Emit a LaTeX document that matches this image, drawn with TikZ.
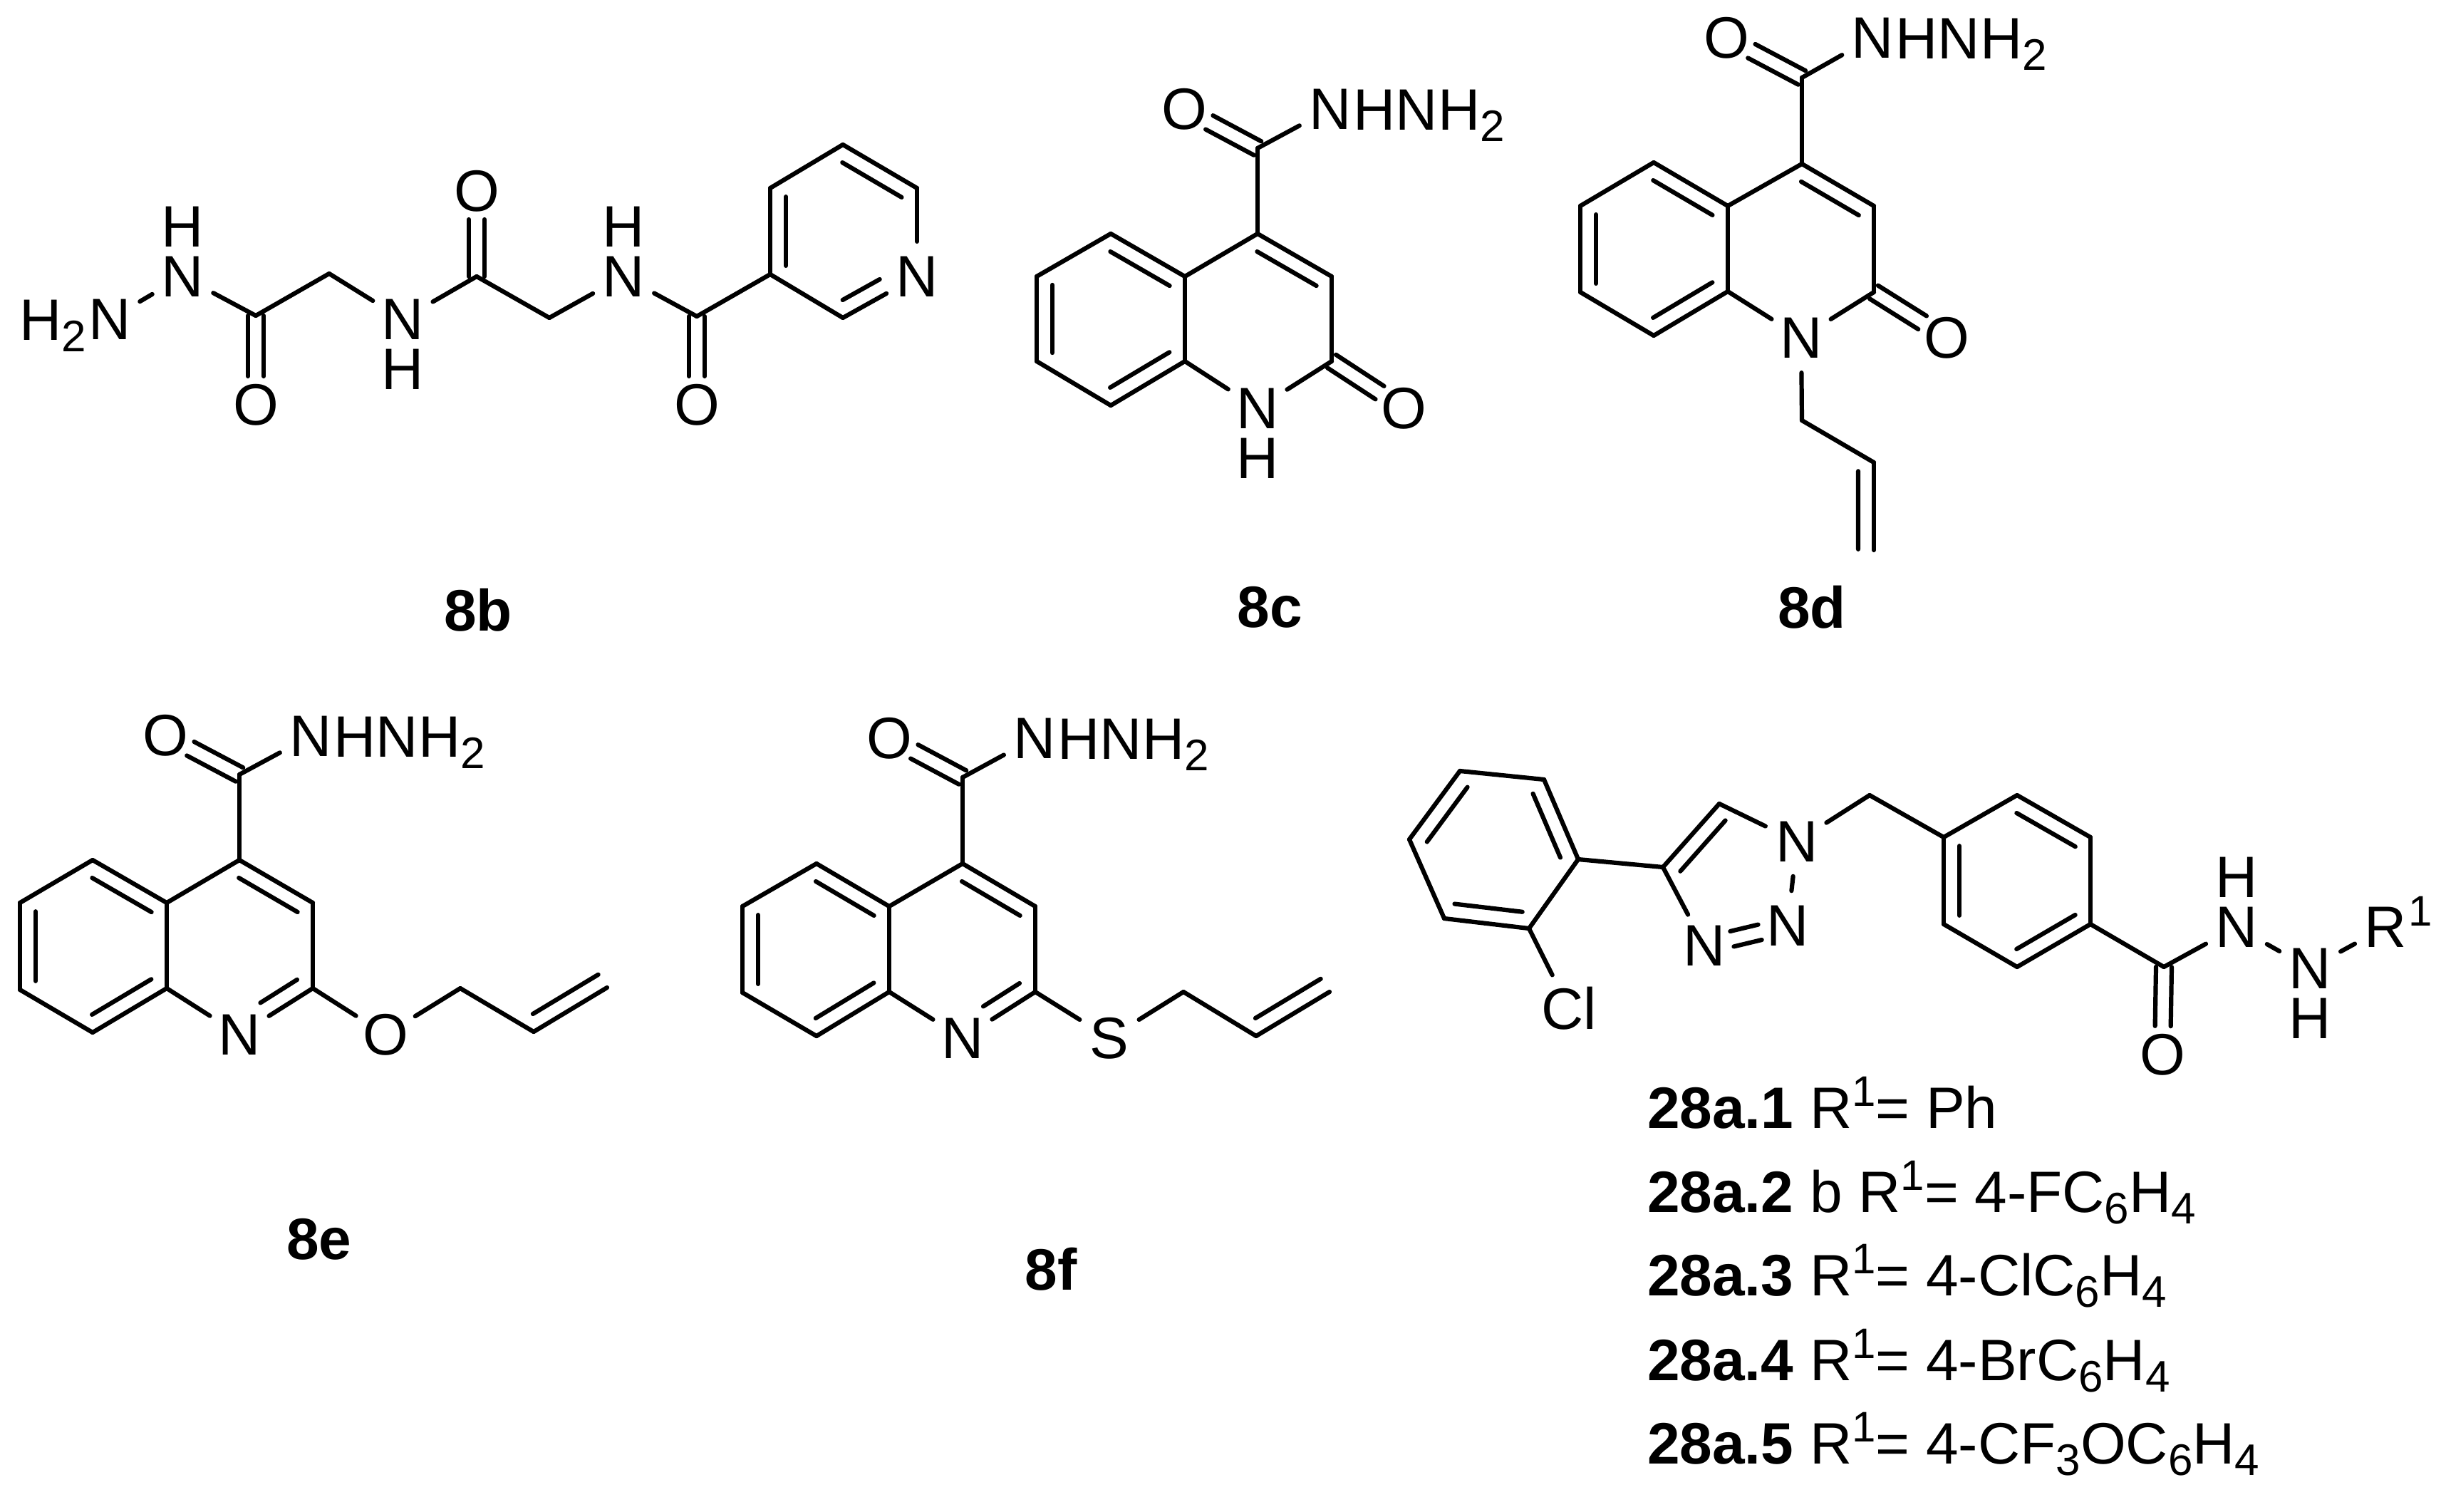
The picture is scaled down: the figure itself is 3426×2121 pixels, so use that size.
\documentclass[tikz,border=0pt]{standalone}
\usepackage{fontspec}
\setmainfont{Liberation Sans}
\usetikzlibrary{calc}
\newcommand{\atomsub}[1]{\raisebox{-4pt}{\fontsize{15.5}{16}\selectfont #1}}
\newcommand{\atomsup}[1]{\raisebox{7.7pt}{\fontsize{15}{16}\selectfont #1}}
% inner line of a ring bond: [far end], from, to, side
\newcommand{\innerbond}[4][0.9]{\draw ($(#2)!0.1!(#3)!5.5pt!#4:(#3)$) -- ($(#2)!#1!(#3)!5.5pt!#4:(#3)$);}
% two lines side by side: [trim at start], from, to
\newcommand{\dblbond}[3][0pt]{%
  \draw[shorten <=#1, shorten >=10pt] ($(#2)!2.75pt!90:(#3)$) -- ($(#3)!2.75pt!-90:(#2)$);
  \draw[shorten <=#1, shorten >=10pt] ($(#2)!2.75pt!-90:(#3)$) -- ($(#3)!2.75pt!90:(#2)$);}

\begin{document}
\begin{tikzpicture}[x=0.25pt, y=-0.25pt, line width=1.55pt, line cap=round, node distance={17.5pt},
    every node/.style = {font=\fontsize{20.5}{24}\selectfont},
    atom/.style = {circle, inner sep=0pt, minimum size=23pt},
    tailr/.style = {anchor=base west, inner sep=0pt, xshift=7.4pt, yshift=-7.3pt},
    taill/.style = {anchor=base east, inner sep=0pt, xshift=-7.4pt, yshift=-7.3pt},
    title/.style = {font=\fontsize{20.5}{24}\selectfont\bfseries},
    listline/.style = {anchor=base west, inner sep=0pt}]
    \useasboundingbox (0,0) rectangle (3426,2121);

    % 8b
    \node[atom] (bn1) at (154,448) {N};
    \node[taill] (bh2) at (bn1) {H\atomsub{2}};
    \node[atom] (bn2) at (256,388) {N};
    \node[atom] (bh3) [above of=bn2] {H};
    \coordinate (bc1) at (359,443);
    \node[atom] (bo1) at (359,568) {O};
    \coordinate (bc2) at (462,384);
    \node[atom] (bn3) at (565,448) {N};
    \node[atom] (bh4) [below of=bn3] {H};
    \coordinate (bc3) at (669,388);
    \node[atom] (bo2) at (669,268) {O};
    \coordinate (bc4) at (771,446);
    \node[atom] (bn4) at (875,388) {N};
    \node[atom] (bh5) [above of=bn4] {H};
    \coordinate (bc5) at (978,444);
    \node[atom] (bo3) at (978,568) {O};
    \coordinate (br1) at (1081,385);
    \coordinate (br2) at (1081,264);
    \coordinate (br3) at (1183,203);
    \coordinate (br4) at (1287,264);
    \node[atom] (br5) at (1287,388) {N};
    \coordinate (br6) at (1183,446);
    \node[title] (blabel) at (671,856) {8b};
    \draw (bn1) -- (bn2);
    \draw (bn2) -- (bc1);
    \draw (bc1) -- (bc2);
    \draw (bc2) -- (bn3);
    \draw (bn3) -- (bc3);
    \draw (bc3) -- (bc4);
    \draw (bc4) -- (bn4);
    \draw (bn4) -- (bc5);
    \draw (bc5) -- (br1);
    \draw (br1) -- (br2);
    \draw (br2) -- (br3);
    \draw (br3) -- (br4);
    \draw (br4) -- (br5);
    \draw (br5) -- (br6);
    \draw (br6) -- (br1);
    \dblbond{bc1}{bo1}
    \dblbond{bc3}{bo2}
    \dblbond{bc5}{bo3}
    \innerbond{br2}{br1}{90}
    \innerbond{br3}{br4}{-90}
    \innerbond[0.6]{br6}{br5}{90}

    % 8c
    \coordinate (c4) at (1765,328);
    \coordinate (c3) at (1869,388);
    \coordinate (c2) at (1869,507);
    \node[atom] (c1) at (1765,573) {N};
    \node[atom] (ch) [below of=c1] {H};
    \coordinate (c8a) at (1663,507);
    \coordinate (c4a) at (1663,388);
    \coordinate (c5) at (1559,328);
    \coordinate (c6) at (1455,388);
    \coordinate (c7) at (1455,507);
    \coordinate (c8) at (1559,569);
    \node[atom] (co1) at (1970,573) {O};
    \coordinate (cc) at (1765,208);
    \node[atom] (co2) at (1662,153) {O};
    \node[atom] (cn) at (1867,153) {N};
    \node[tailr] (cnh) at (cn) {HNH\atomsub{2}};
    \node[title] (clabel) at (1782,852) {8c};
    \draw (c4) -- (c3);
    \draw (c3) -- (c2);
    \draw (c2) -- (c1);
    \draw (c1) -- (c8a);
    \draw (c8a) -- (c4a);
    \draw (c4a) -- (c4);
    \draw (c4a) -- (c5);
    \draw (c5) -- (c6);
    \draw (c6) -- (c7);
    \draw (c7) -- (c8);
    \draw (c8) -- (c8a);
    \draw (c4) -- (cc);
    \draw (cc) -- (cn);
    \dblbond{c2}{co1}
    \dblbond{cc}{co2}
    \innerbond{c3}{c4}{90}
    \innerbond{c4a}{c5}{90}
    \innerbond{c6}{c7}{90}
    \innerbond{c8}{c8a}{90}

    % 8d
    \coordinate (d4) at (2529,230);
    \coordinate (d3) at (2630,289);
    \coordinate (d2) at (2630,410);
    \node[atom] (d1) at (2528,474) {N};
    \coordinate (d8a) at (2425,409);
    \coordinate (d4a) at (2425,289);
    \coordinate (d5) at (2321,228);
    \coordinate (d6) at (2218,289);
    \coordinate (d7) at (2218,410);
    \coordinate (d8) at (2321,471);
    \node[atom] (do1) at (2732,474) {O};
    \coordinate (dc) at (2529,109);
    \node[atom] (do2) at (2423,53) {O};
    \node[atom] (dn) at (2628,53) {N};
    \node[tailr] (dnh) at (dn) {HNH\atomsub{2}};
    \coordinate (da1) at (2529,590);
    \coordinate (da2) at (2630,649);
    \coordinate (da3) at (2630,772);
    \node[title] (dlabel) at (2543,852) {8d};
    \draw (d4) -- (d3);
    \draw (d3) -- (d2);
    \draw (d2) -- (d1);
    \draw (d1) -- (d8a);
    \draw (d8a) -- (d4a);
    \draw (d4a) -- (d4);
    \draw (d4a) -- (d5);
    \draw (d5) -- (d6);
    \draw (d6) -- (d7);
    \draw (d7) -- (d8);
    \draw (d8) -- (d8a);
    \draw (d4) -- (dc);
    \draw (dc) -- (dn);
    \draw (d1) -- (da1);
    \draw (da1) -- (da2);
    \draw (da2) -- (da3);
    \dblbond{d2}{do1}
    \dblbond{dc}{do2}
    \innerbond{d3}{d4}{90}
    \innerbond{d4a}{d5}{90}
    \innerbond{d6}{d7}{90}
    \innerbond{d8}{d8a}{90}
    \innerbond[0.99]{da2}{da3}{-90}

    % 8e
    \coordinate (e4) at (336,1207);
    \coordinate (e3) at (439,1267);
    \coordinate (e2) at (439,1387);
    \node[atom] (e1) at (336,1452) {N};
    \coordinate (e8a) at (234,1387);
    \coordinate (e4a) at (234,1267);
    \coordinate (e5) at (130,1207);
    \coordinate (e6) at (28,1267);
    \coordinate (e7) at (28,1389);
    \coordinate (e8) at (130,1449);
    \node[atom] (eo1) at (541,1452) {O};
    \coordinate (ea1) at (646,1387);
    \coordinate (ea2) at (749,1448);
    \coordinate (ea3) at (852,1386);
    \coordinate (ec) at (336,1087);
    \node[atom] (eo2) at (232,1032) {O};
    \node[atom] (en) at (436,1033) {N};
    \node[tailr] (enh) at (en) {HNH\atomsub{2}};
    \node[title] (elabel) at (448,1739) {8e};
    \draw (e4) -- (e3);
    \draw (e3) -- (e2);
    \draw (e2) -- (e1);
    \draw (e1) -- (e8a);
    \draw (e8a) -- (e4a);
    \draw (e4a) -- (e4);
    \draw (e4a) -- (e5);
    \draw (e5) -- (e6);
    \draw (e6) -- (e7);
    \draw (e7) -- (e8);
    \draw (e8) -- (e8a);
    \draw (e4) -- (ec);
    \draw (ec) -- (en);
    \draw (e2) -- (eo1);
    \draw (eo1) -- (ea1);
    \draw (ea1) -- (ea2);
    \draw (ea2) -- (ea3);
    \dblbond{ec}{eo2}
    \innerbond{e3}{e4}{90}
    \innerbond{e4a}{e5}{90}
    \innerbond{e6}{e7}{90}
    \innerbond{e8}{e8a}{90}
    \innerbond[0.6]{e2}{e1}{-90}
    \innerbond[0.99]{ea2}{ea3}{90}

    % 8f
    \coordinate (f4) at (1351,1212);
    \coordinate (f3) at (1453,1272);
    \coordinate (f2) at (1453,1392);
    \node[atom] (f1) at (1351,1457) {N};
    \coordinate (f8a) at (1248,1392);
    \coordinate (f4a) at (1248,1272);
    \coordinate (f5) at (1146,1212);
    \coordinate (f6) at (1042,1272);
    \coordinate (f7) at (1042,1393);
    \coordinate (f8) at (1146,1454);
    \node[atom] (fs) at (1557,1457) {S};
    \coordinate (fa1) at (1661,1392);
    \coordinate (fa2) at (1763,1454);
    \coordinate (fa3) at (1866,1392);
    \coordinate (fc) at (1351,1091);
    \node[atom] (fo2) at (1248,1036) {O};
    \node[atom] (fn) at (1452,1036) {N};
    \node[tailr] (fnh) at (fn) {HNH\atomsub{2}};
    \node[title] (flabel) at (1475,1781) {8f};
    \draw (f4) -- (f3);
    \draw (f3) -- (f2);
    \draw (f2) -- (f1);
    \draw (f1) -- (f8a);
    \draw (f8a) -- (f4a);
    \draw (f4a) -- (f4);
    \draw (f4a) -- (f5);
    \draw (f5) -- (f6);
    \draw (f6) -- (f7);
    \draw (f7) -- (f8);
    \draw (f8) -- (f8a);
    \draw (f4) -- (fc);
    \draw (fc) -- (fn);
    \draw (f2) -- (fs);
    \draw (fs) -- (fa1);
    \draw (fa1) -- (fa2);
    \draw (fa2) -- (fa3);
    \dblbond{fc}{fo2}
    \innerbond{f3}{f4}{90}
    \innerbond{f4a}{f5}{90}
    \innerbond{f6}{f7}{90}
    \innerbond{f8}{f8a}{90}
    \innerbond[0.6]{f2}{f1}{-90}
    \innerbond[0.99]{fa2}{fa3}{90}

    % 28a
    \coordinate (p1) at (2049,1082);
    \coordinate (p2) at (2167,1094);
    \coordinate (p3) at (2215,1206);
    \coordinate (p4) at (2146,1303);
    \coordinate (p5) at (2027,1289);
    \coordinate (p6) at (1978,1178);
    \node[atom] (pcl) at (2202,1415) {Cl};
    \coordinate (t4) at (2334,1217);
    \coordinate (t5) at (2413,1128);
    \node[atom] (t1) at (2522,1181) {N};
    \node[atom] (t2) at (2509,1299) {N};
    \node[atom] (t3) at (2392,1327) {N};
    \coordinate (g1) at (2624,1116);
    \coordinate (a1) at (2728,1175);
    \coordinate (a2) at (2831,1116);
    \coordinate (a3) at (2934,1175);
    \coordinate (a4) at (2934,1297);
    \coordinate (a5) at (2831,1357);
    \coordinate (a6) at (2728,1297);
    \coordinate (gc) at (3037,1357);
    \node[atom] (go) at (3035,1480) {O};
    \node[atom] (gn1) at (3139,1301) {N};
    \node[atom] (gh1) [above of=gn1] {H};
    \node[atom] (gn2) at (3242,1359) {N};
    \node[atom] (gh2) [below of=gn2] {H};
    \node[atom] (gr) at (3348,1301) {R};
    \node[tailr] (gr1) at (gr) {\atomsup{1}};
    \draw (p1) -- (p2);
    \draw (p2) -- (p3);
    \draw (p3) -- (p4);
    \draw (p4) -- (p5);
    \draw (p5) -- (p6);
    \draw (p6) -- (p1);
    \draw (p4) -- (pcl);
    \draw (p3) -- (t4);
    \draw (t4) -- (t5);
    \draw (t5) -- (t1);
    \draw (t1) -- (t2);
    \draw (t3) -- (t4);
    \draw (t1) -- (g1);
    \draw (g1) -- (a1);
    \draw (a1) -- (a2);
    \draw (a2) -- (a3);
    \draw (a3) -- (a4);
    \draw (a4) -- (a5);
    \draw (a5) -- (a6);
    \draw (a6) -- (a1);
    \draw (a4) -- (gc);
    \draw (gc) -- (gn1);
    \draw (gn1) -- (gn2);
    \draw (gn2) -- (gr);
    \dblbond{gc}{go}
    \dblbond[10pt]{t3}{t2}
    \innerbond{p1}{p6}{90}
    \innerbond{p5}{p4}{90}
    \innerbond{p3}{p2}{90}
    \innerbond{t4}{t5}{-90}
    \innerbond{a1}{a6}{90}
    \innerbond{a5}{a4}{90}
    \innerbond{a3}{a2}{90}

    % R1 list
    \node[listline] (l1) at (2309,1583) {\textbf{28a.1} R\atomsup{1}= Ph};
    \node[listline] (l2) at (2309,1701) {\textbf{28a.2} b R\atomsup{1}= 4-FC\atomsub{6}H\atomsub{4}};
    \node[listline] (l3) at (2309,1818) {\textbf{28a.3} R\atomsup{1}= 4-ClC\atomsub{6}H\atomsub{4}};
    \node[listline] (l4) at (2309,1937) {\textbf{28a.4} R\atomsup{1}= 4-BrC\atomsub{6}H\atomsub{4}};
    \node[listline] (l5) at (2309,2054) {\textbf{28a.5} R\atomsup{1}= 4-CF\atomsub{3}OC\atomsub{6}H\atomsub{4}};
\end{tikzpicture}
\end{document}
